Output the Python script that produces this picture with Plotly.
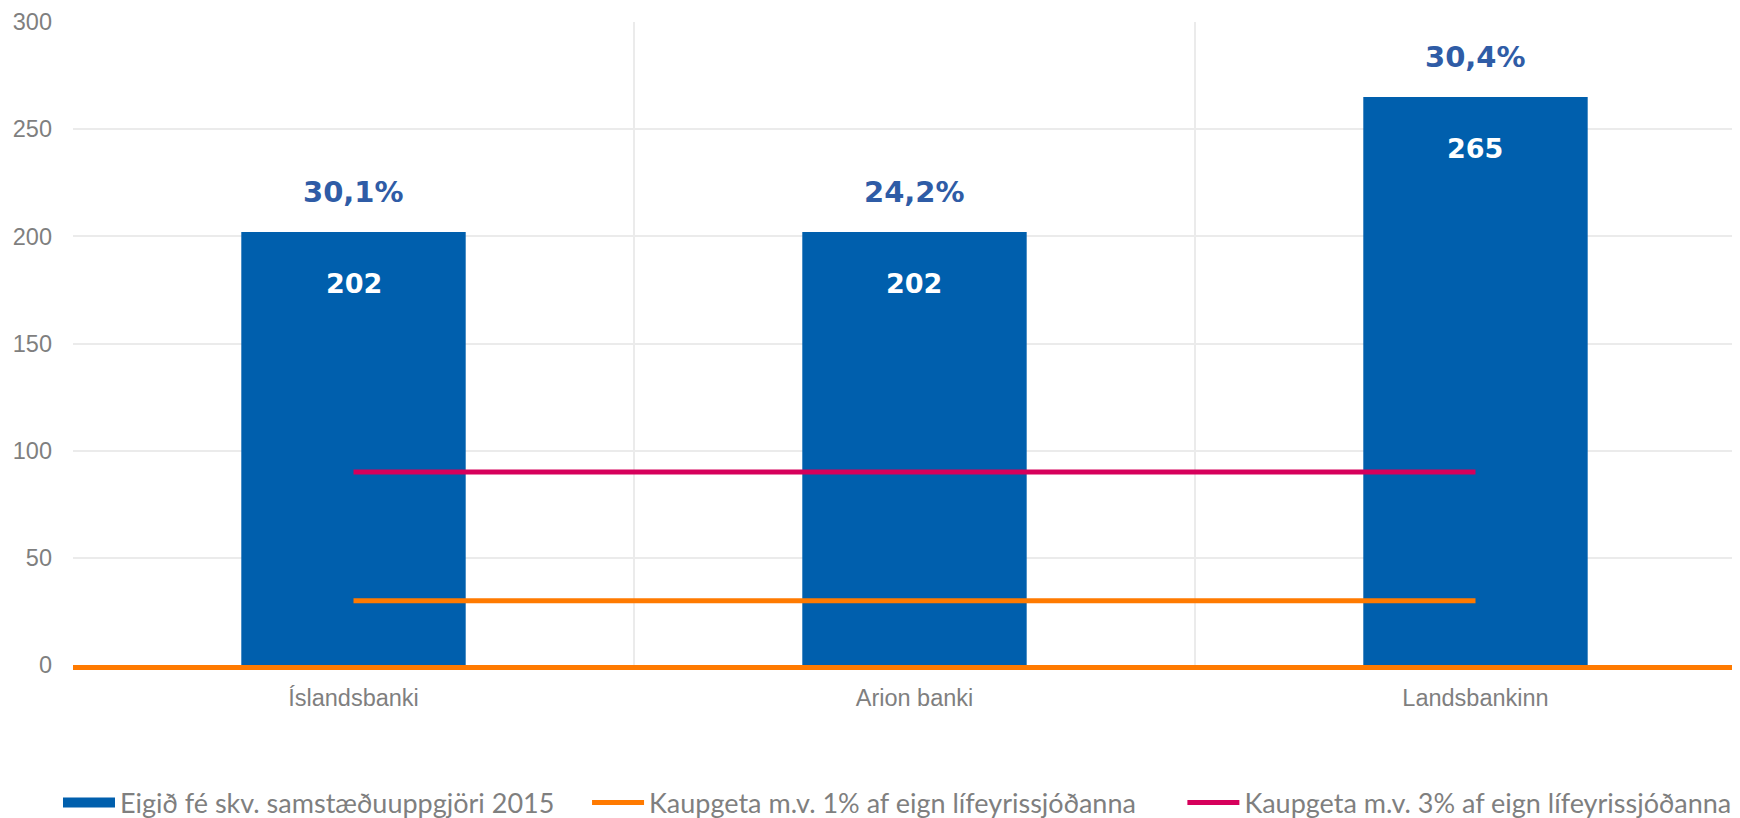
import plotly.graph_objects as go

banks = ["Íslandsbanki", "Arion banki", "Landsbankinn"]
equity_2015 = [202, 202, 265]
equity_labels = ["202", "202", "265"]
share_labels = ["30,1%", "24,2%", "30,4%"]
capacity_1pct = [30, 30, 30]
capacity_3pct = [90, 90, 90]
y_ticks = [0, 50, 100, 150, 200, 250, 300]

name_equity = "Eigið fé skv. samstæðuuppgjöri 2015"
name_1pct = "Kaupgeta m.v. 1% af eign lífeyrissjóðanna"
name_3pct = "Kaupgeta m.v. 3% af eign lífeyrissjóðanna"

BLUE = "#005FAD"
ORANGE = "#FF7A00"
PINK = "#D6005B"
LABEL_BLUE = "#2F5CA6"
GRAY = "#7F7F7F"

fig = go.Figure()
fig.add_trace(go.Bar(
    x=banks, y=equity_2015, name=name_equity, showlegend=False, legendgroup="eq",
    marker=dict(color=BLUE, line=dict(width=0)), width=0.4,
))
# legend key for the bar series (wide rectangle, as in the original)
fig.add_trace(go.Scatter(
    x=[None], y=[None], mode="lines", name=name_equity + "\u00a0" * 4, legendgroup="eq",
    line=dict(color=BLUE, width=16), hoverinfo="skip",
))
fig.add_trace(go.Scatter(
    x=banks, y=capacity_1pct, mode="lines", name=name_1pct + "\u00a0" * 6,
    line=dict(color=ORANGE, width=5),
))
fig.add_trace(go.Scatter(
    x=banks, y=capacity_3pct, mode="lines", name=name_3pct,
    line=dict(color=PINK, width=5),
))

for b, v, t, p in zip(banks, equity_2015, equity_labels, share_labels):
    fig.add_annotation(x=b, y=v, text=t, showarrow=False, yshift=-51,
                       font=dict(family="DejaVu Sans", size=27, color="white", weight="bold"))
    fig.add_annotation(x=b, y=v, text=p, showarrow=False, yshift=40,
                       font=dict(family="DejaVu Sans", size=29, color=LABEL_BLUE, weight="bold"))

# page body adds an 8px offset; margins compensate so the plot sits where the original does
fig.update_layout(
    width=1740, height=818,
    margin=dict(l=65, r=8, t=14, b=161, autoexpand=False),
    paper_bgcolor="white", plot_bgcolor="white",
    showlegend=True,
    legend=dict(orientation="h", x=-0.009, xanchor="left", y=-0.2145, yanchor="middle",
                font=dict(family="Lato", size=27, color=GRAY), itemwidth=52,
                traceorder="normal", borderwidth=0),
)
fig.update_xaxes(
    type="category", range=[-0.5, 2.4715], tickson="boundaries", automargin=False,
    showgrid=True, gridcolor="#EBEBEB", gridwidth=1.5,
    showline=True, linecolor=ORANGE, linewidth=5,
    ticks="", ticklabelstandoff=8,
    tickfont=dict(family="Liberation Sans", size=23.5, color=GRAY),
)
fig.update_yaxes(
    range=[0, 300], tickvals=y_ticks, automargin=False,
    showgrid=True, gridcolor="#EBEBEB", gridwidth=1.5,
    zeroline=False, showline=False, ticks="", ticklabelstandoff=20,
    tickfont=dict(family="Liberation Sans", size=23.5, color=GRAY),
)

fig.write_html("out.html")
